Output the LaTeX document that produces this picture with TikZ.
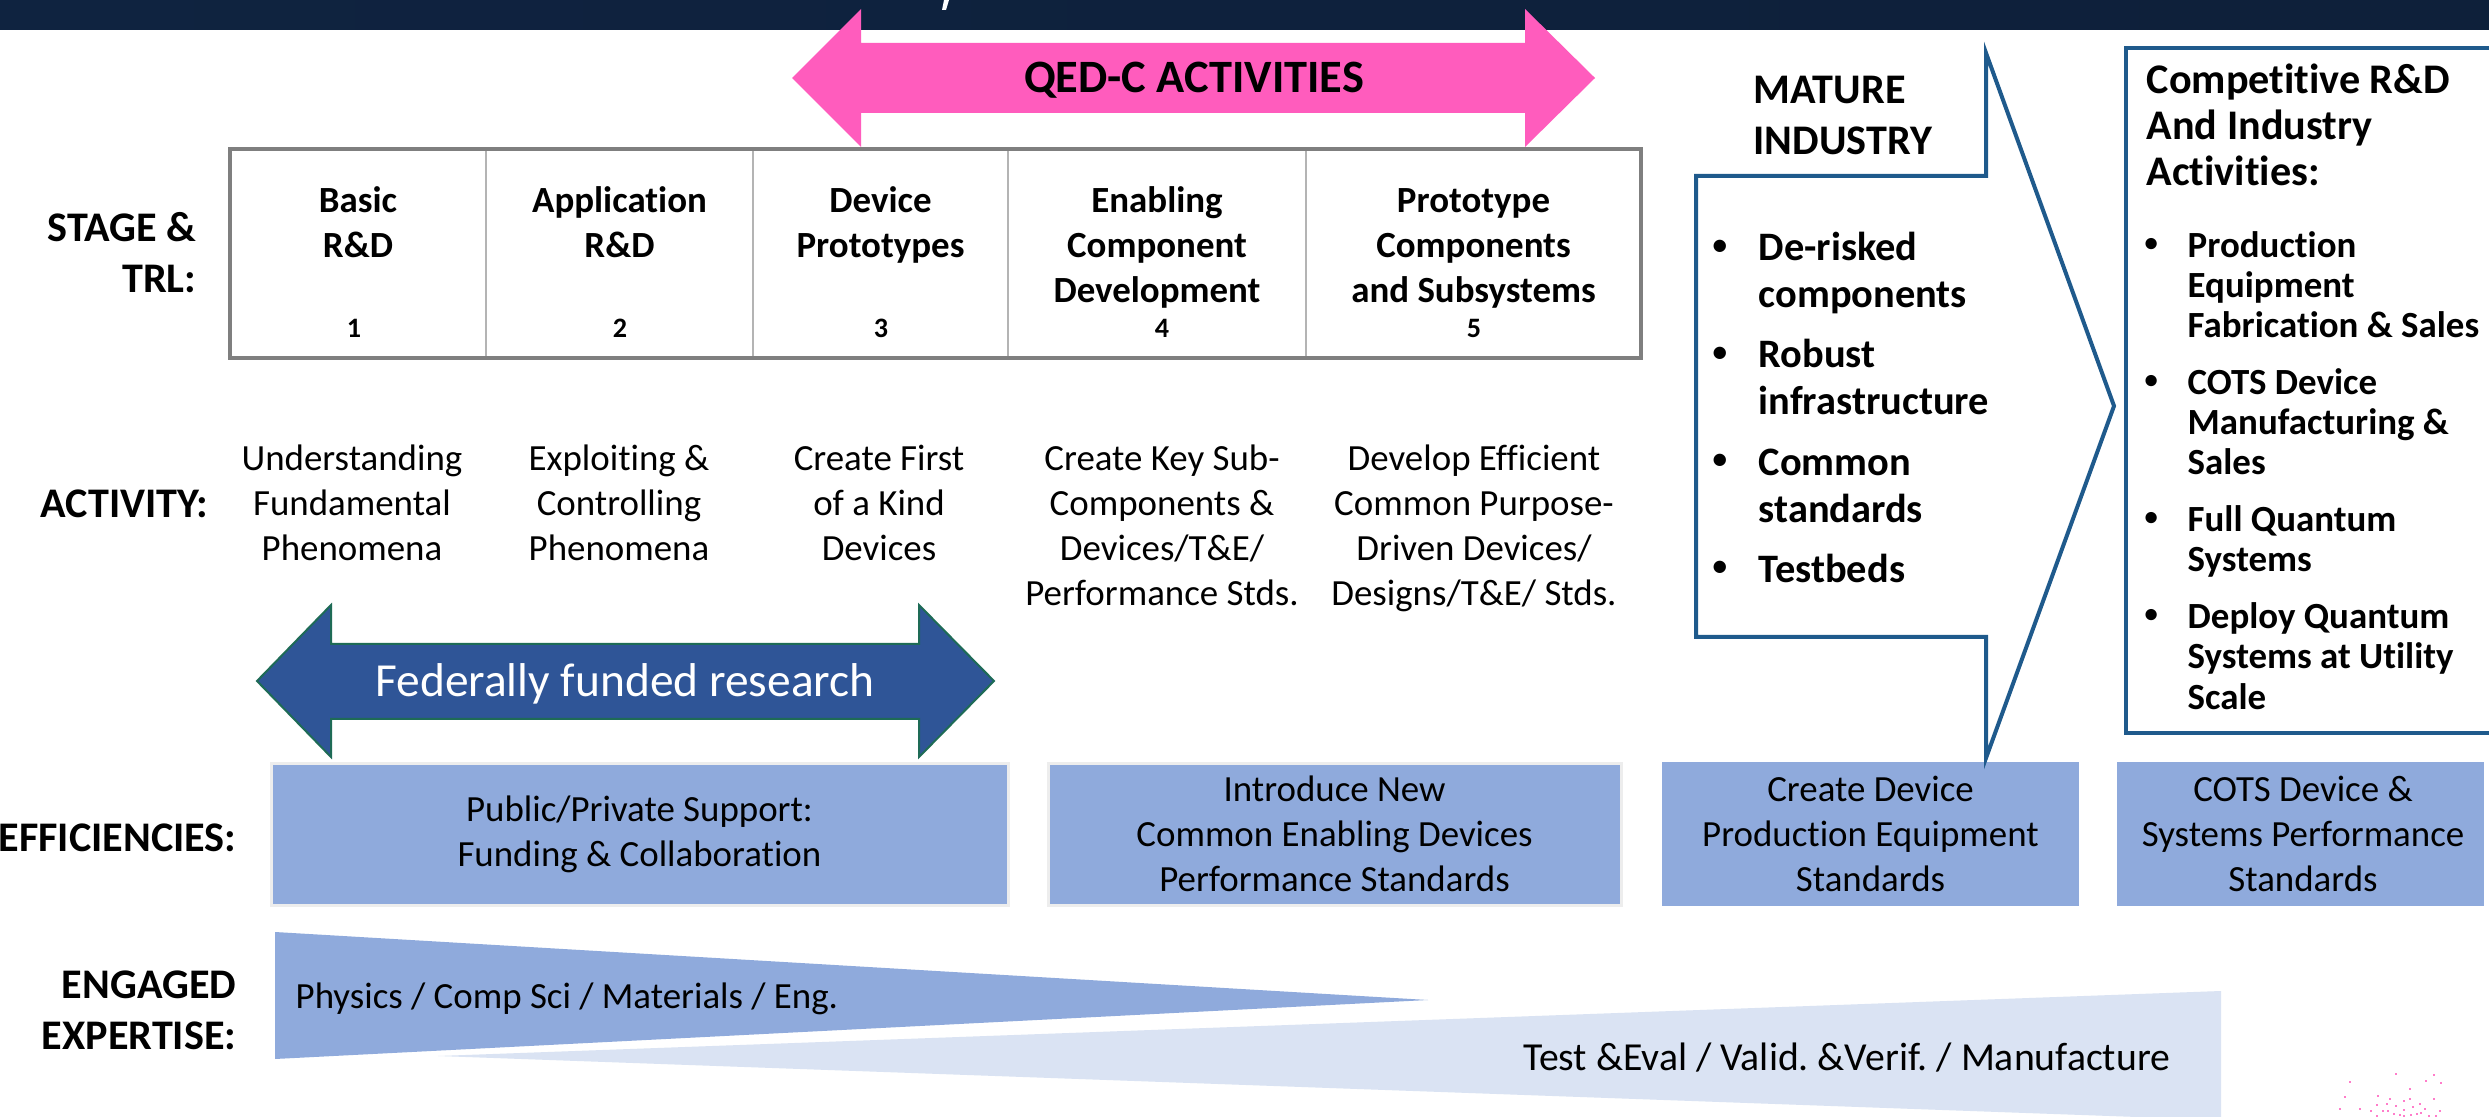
\documentclass[tikz,border=0pt]{standalone}
\usepackage{fontspec}
\usepackage{graphicx}
\setmainfont{Carlito}[Ligatures=NoCommon]
\frenchspacing
\definecolor{bannerdark}{HTML}{0F2340}
\definecolor{bannerlight}{HTML}{183C6E}
\definecolor{qedpink}{HTML}{FF5CBD}
\definecolor{fedblue}{HTML}{2F5597}
\definecolor{fedrim}{HTML}{1E6B56}
\definecolor{effblue}{HTML}{8FAADC}
\definecolor{paleblue}{HTML}{DAE3F3}
\definecolor{matblue}{HTML}{1F5A8C}
\definecolor{tablegray}{HTML}{7F7F7F}
\definecolor{divgray}{HTML}{B4B4B4}
\newcommand{\bulitem}[1]{\makebox[#1][l]{\raisebox{1.8pt}{\scalebox{0.72}{\textbullet}}}}
\newcommand{\bulcont}[1]{\hspace*{#1}}
\begin{document}
\begin{tikzpicture}[x=0.1mm, y=-0.1mm, line join=miter,
    rowlabel/.style={font=\fontsize{12}{14.5}\selectfont\bfseries, align=right, inner sep=0pt},
    stagetxt/.style={font=\fontsize{10.5}{12.8}\selectfont\bfseries, align=center, inner sep=0pt, anchor=north},
    trlnum/.style={font=\fontsize{8}{10}\selectfont\bfseries, inner sep=0pt, anchor=base},
    acttxt/.style={font=\fontsize{10.5}{12.8}\selectfont, align=center, inner sep=0pt, anchor=north},
    effbox/.style={fill=effblue},
    efftxt/.style={font=\fontsize{10.5}{12.8}\selectfont, align=center, inner sep=0pt},
    industry/.style={draw=matblue, line width=0.4mm},
    header/.style={font=\fontsize{12}{14.5}\selectfont\bfseries, align=left, inner sep=0pt, anchor=north west}]
  %% Khung
  \def\W{2489}
  \def\H{1117}
  \useasboundingbox (0,0) rectangle (\W,\H);
  \clip (0,0) rectangle (\W,\H);
  \fill [white] (0,0) rectangle (\W,\H);
  %% Dải tiêu đề
  \shade [left color=bannerdark, middle color=bannerlight, right color=bannerdark!90!black] (0,0) rectangle (\W,30);
  \fill [white] (944,0) -- (949,0) -- (946,10) -- (942,10) -- cycle;
  %% Mũi tên QED-C
  \fill [qedpink] (792,78) -- (861,9) -- (861,43) -- (1525,43) -- (1525,9) -- (1595,78)
    -- (1525,147) -- (1525,113) -- (861,113) -- (861,147) -- cycle;
  \node [font=\fontsize{13.2}{15}\selectfont\bfseries, anchor=base, inner sep=0pt] (qedc) at (1194,93) {QED-C ACTIVITIES};
  %% Bảng giai đoạn
  \fill [white] (230,149) rectangle (1641,358);
  \foreach \x in {486,753,1008,1306}
    \draw [divgray, line width=0.25mm] (\x,149) -- (\x,358);
  \draw [tablegray, line width=0.4mm] (230,149) rectangle (1641,358);
  \node [stagetxt] (stg1) at (358,180.5) {\strut Basic\\R\&D};
  \node [stagetxt] (stg2) at (619.5,180.5) {\strut Application\\R\&D};
  \node [stagetxt] (stg3) at (880.5,180.5) {\strut Device\\Prototypes};
  \node [stagetxt] (stg4) at (1157,180.5) {\strut Enabling\\Component\\Development};
  \node [stagetxt] (stg5) at (1473.5,180.5) {\strut Prototype\\Components\\and Subsystems};
  \foreach \x/\n in {354/1,620/2,881/3,1162/4,1474/5}
    \node [trlnum] (trl\n) at (\x,338) {\n};
  %% Nhãn các hàng
  \node [rowlabel, anchor=north east] (lstage) at (197,205) {\strut STAGE \&\\TRL:};
  \node [rowlabel, anchor=base east] (lact) at (209,518) {ACTIVITY:};
  \node [rowlabel, anchor=base east] (leff) at (237,851) {EFFICIENCIES:};
  \node [rowlabel, anchor=north east] (lexp) at (237,962) {\strut ENGAGED\\EXPERTISE:};
  %% Hoạt động
  \node [acttxt] (act1) at (352,438.5) {\strut Understanding\\Fundamental\\Phenomena};
  \node [acttxt] (act2) at (619,438.5) {\strut Exploiting \&\\Controlling\\Phenomena};
  \node [acttxt] (act3) at (879,438.5) {\strut Create First\\of a Kind\\Devices};
  \node [acttxt] (act4) at (1162,438.5) {\strut Create Key Sub-\\Components \&\\Devices/T\&E/\\Performance Stds.};
  \node [acttxt] (act5) at (1474,438.5) {\strut Develop Efficient\\Common Purpose-\\Driven Devices/\\Designs/T\&E/ Stds.};
  %% Mũi tên nghiên cứu liên bang
  \draw [fill=fedblue, draw=fedrim, line width=0.2mm] (257,681) -- (331,605) -- (331,644) -- (919,644)
    -- (919,605) -- (994,681) -- (919,757) -- (919,719) -- (331,719) -- (331,757) -- cycle;
  \node [white, font=\fontsize{13.5}{15}\selectfont, anchor=base, inner sep=0pt] (fed) at (625,697) {Federally funded research};
  %% Hiệu quả
  \draw [effbox, draw=black!7, line width=0.3mm] (271,763) rectangle (1008,905);
  \draw [effbox, draw=black!7, line width=0.3mm] (1048,763) rectangle (1621,905);
  \fill [effbox] (1662,762) rectangle (2079,906);
  \fill [effbox] (2117,762) rectangle (2484,906);
  \node [efftxt] (eff1) at (639.5,834) {Public/Private Support:\\Funding \& Collaboration};
  \node [efftxt] (eff2) at (1334.5,834) {Introduce New\\Common Enabling Devices\\Performance Standards};
  \node [efftxt] (eff3) at (1870.5,834) {Create Device\\Production Equipment\\Standards};
  \node [efftxt] (eff4) at (2303,834) {COTS Device \&\\Systems Performance\\Standards};
  %% Chuyên môn
  \fill [paleblue] (438,1056) -- (2221,991) -- (2221,1120) -- cycle;
  \fill [effblue] (275,932) -- (1428,1000) -- (275,1059) -- cycle;
  \node [font=\fontsize{10.5}{12.8}\selectfont, anchor=base west, inner sep=0pt] (exp1) at (295,1008) {Physics / Comp Sci / Materials / Eng.};
  \node [font=\fontsize{11.3}{13.5}\selectfont, anchor=base east, inner sep=0pt] (exp2) at (2171,1070) {Test \&Eval / Valid. \&Verif. / Manufacture};
  %% Công nghiệp trưởng thành
  \draw [industry] (1696,637) -- (1696,176) -- (1986,176) -- (1986,53) -- (2114,406)
    -- (1986,758) -- (1986,637) -- cycle;
  \node [header] (mature) at (1753,67.3) {\strut MATURE\\INDUSTRY};
  \node [font=\fontsize{11.5}{13.4}\selectfont\bfseries, align=left, inner sep=0pt, anchor=north west] (matlist) at (1712,227)
    {\strut\bulitem{4.6mm}De-risked\\\bulcont{4.6mm}components\\[3.7pt]
     \bulitem{4.6mm}Robust\\\bulcont{4.6mm}infrastructure\\[3.7pt]
     \bulitem{4.6mm}Common\\\bulcont{4.6mm}standards\\[3.7pt]
     \bulitem{4.6mm}Testbeds};
  %% Cạnh tranh
  \draw [industry, line width=0.45mm] (2126,48) rectangle (2560,733);
  \node [header, font=\fontsize{12}{13.1}\selectfont\bfseries] (compet) at (2146,60.8) {\strut Competitive R\&D\\And Industry\\Activities:};
  \node [font=\fontsize{10.5}{11.4}\selectfont\bfseries, align=left, inner sep=0pt, anchor=north west] (complist) at (2144,229)
    {\strut\bulitem{4.3mm}Production\\\bulcont{4.3mm}Equipment\\\bulcont{4.3mm}Fabrication \& Sales\\[4.8pt]
     \bulitem{4.3mm}COTS Device\\\bulcont{4.3mm}Manufacturing \&\\\bulcont{4.3mm}Sales\\[4.8pt]
     \bulitem{4.3mm}Full Quantum\\\bulcont{4.3mm}Systems\\[4.8pt]
     \bulitem{4.3mm}Deploy Quantum\\\bulcont{4.3mm}Systems at Utility\\\bulcont{4.3mm}Scale};
  %% Chấm trang trí
  \foreach \px/\py in {2396/1074,2434/1075,2350/1082,2426/1081,2441/1083,2410/1089,2345/1097,2378/1096,
      2390/1099,2404/1101,2410/1099,2434/1099,2377/1105,2387/1104,2396/1106,2420/1104,2413/1107,
      2340/1109,2360/1109,2371/1111,2383/1111,2388/1111,2404/1110,2425/1109,2440/1111,2394/1114,
      2400/1115,2404/1116,2411/1115,2417/1114,2421/1113,2377/1116,2429/1116,2436/1116}
    \fill [qedpink!80] (\px-1.2,\py-1.2) rectangle (\px+1.2,\py+1.2);
\end{tikzpicture}
\end{document}
